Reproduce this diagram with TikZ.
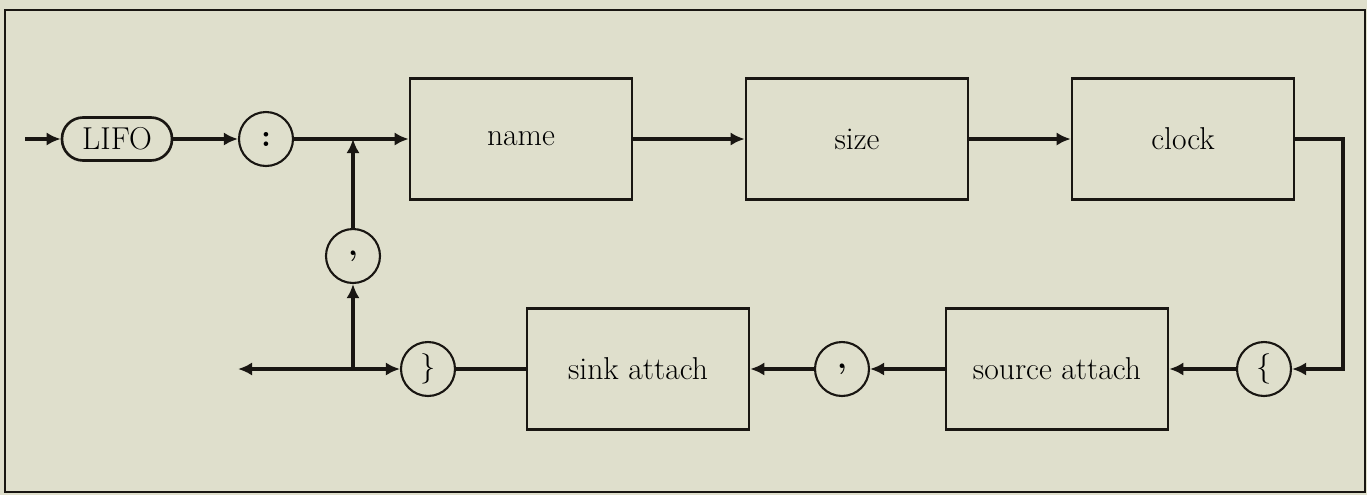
\documentclass[tikz,border=0pt]{standalone}
\usepackage{fontspec}
\usetikzlibrary{arrows.meta}
\definecolor{paper}{RGB}{223,223,204}
\definecolor{ink}{RGB}{25,22,18}
\newcommand{\synfont}{\fontsize{18}{21}\selectfont\addfontfeature{LetterSpace=6}}
\tikzset{
  synbox/.style={draw=ink,line width=1.5pt,minimum width=4.44cm,minimum height=2.42cm,font=\synfont},
  synpill/.style={draw=ink,line width=1.5pt,rounded corners=12pt,minimum width=2.2cm,minimum height=0.86cm,font=\synfont},
  syncirc/.style={circle,draw=ink,line width=1.2pt,minimum size=1.08cm,inner sep=0pt,font=\fontsize{18}{21}\selectfont\bfseries},
  synarr/.style={-{Latex[length=8pt,width=7.5pt]},line width=1.8pt,draw=ink},
  synline/.style={line width=1.8pt,draw=ink}
}
\begin{document}
\begin{tikzpicture}[x=0.02cm,y=-0.02cm]
  \fill[paper] (0,0) rectangle (1367,495);
  \useasboundingbox (0,0) rectangle (1367,495);
  \draw[ink,line width=1.5pt] (5,10) rectangle (1365,492);

  % top row
  \coordinate (start) at (25,139);
  \node[synpill] (lifo) at (117,139) {LIFO};
  \node[syncirc] (colon) at (266,139) {:};
  \coordinate (jt) at (353,139);
  \node[synbox] (name) at (521,139) {name};
  \node[synbox] (size) at (857,139) {size};
  \node[synbox] (clock) at (1183,139) {clock};
  \coordinate (turn) at (1343,139);

  % bottom row
  \node[syncirc] (lbrace) at (1264,369) {$\{$};
  \node[synbox] (source) at (1057,369) {source attach};
  \node[syncirc] (comma2) at (842,369) {,};
  \node[synbox] (sink) at (638,369) {sink attach};
  \node[syncirc] (rbrace) at (428,369) {$\}$};
  \coordinate (jb) at (353,369);
  \coordinate (exit) at (238,369);
  \node[syncirc] (comma1) at (353,256) {,};

  \draw[synarr] (start) -- (lifo);
  \draw[synarr] (lifo) -- (colon);
  \draw[synarr] (colon) -- (name);
  \draw[synarr] (name) -- (size);
  \draw[synarr] (size) -- (clock);
  \draw[synarr] (clock) -- (turn) |- (lbrace);
  \draw[synarr] (lbrace) -- (source);
  \draw[synarr] (source) -- (comma2);
  \draw[synarr] (comma2) -- (sink);
  \draw[synline] (sink) -- (rbrace);
  \draw[synarr,{Latex[length=8pt,width=7.5pt]}-{Latex[length=8pt,width=7.5pt]}] (exit) -- (rbrace);
  \draw[synarr] (jb) -- (comma1);
  \draw[synarr] (comma1) -- (jt);
\end{tikzpicture}
\end{document}
